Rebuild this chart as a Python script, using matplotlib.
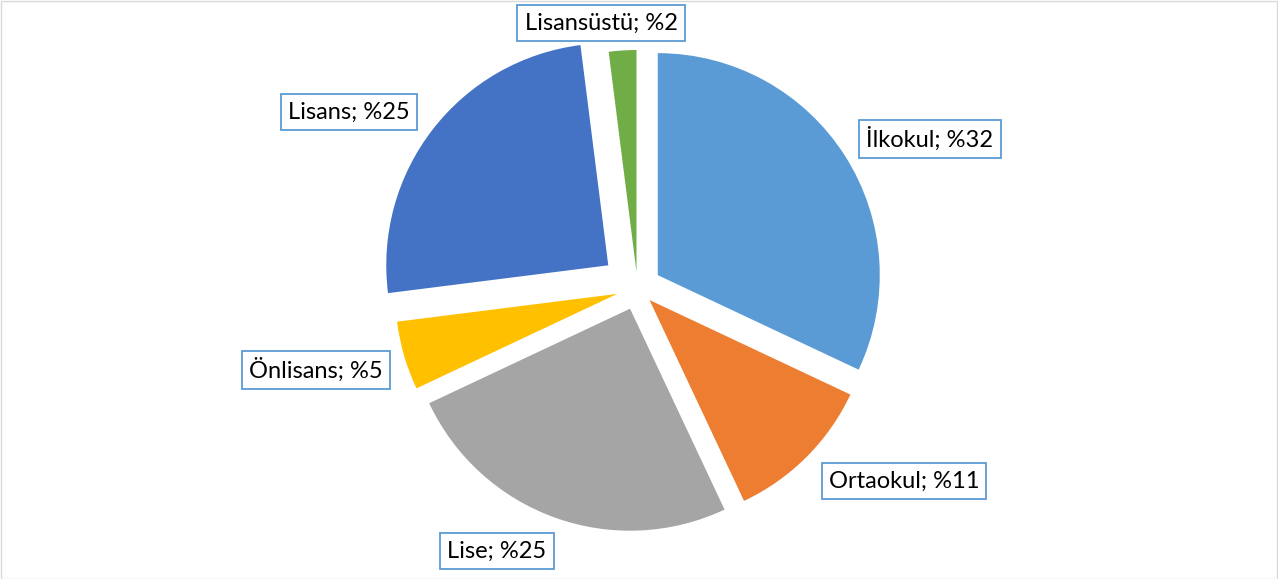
import matplotlib
matplotlib.use("Agg")
import matplotlib.pyplot as plt
from matplotlib.patches import Rectangle

# education level shares (%)
categories = ["İlkokul", "Ortaokul", "Lise", "Önlisans", "Lisans", "Lisansüstü"]
shares = [32, 11, 25, 5, 25, 2]
colors = ["#5B9BD5", "#ED7D31", "#A5A5A5", "#FFC000", "#4472C4", "#70AD47"]

# label box centres in pixel coords (x, y from top)
label_pos = [(930, 139), (904, 481), (497, 551), (316, 370), (349, 112), (601, 23)]
# how far each slice is pulled out (pixels)
explode = [24, 17, 22, 21, 37, 16]

W, H = 1278, 579
fig = plt.figure(figsize=(W / 100, H / 100), dpi=100)
ax = fig.add_axes([0, 0, 1, 1])

cx, cy = 637.5, H - 288
R = 222

ax.pie(shares, colors=colors, startangle=90, counterclock=False,
       center=(cx, cy), radius=R, explode=explode,
       wedgeprops=dict(linewidth=0), frame=False)
ax.set_xlim(0, W)
ax.set_ylim(0, H)
ax.set_aspect("equal")
ax.axis("off")

for name, val, (lx, ly) in zip(categories, shares, label_pos):
	ax.text(lx, H - ly, "%s; %%%d" % (name, val), ha="center", va="center",
	        fontsize=17, family=["Lato", "DejaVu Sans"], color="#000000",
	        bbox=dict(boxstyle="square,pad=0.3", fc="white", ec="#5B9BD5", lw=1.3))

# outer chart border
fig.patches.append(Rectangle((0.5 / W, 0.5 / H), 1 - 1.5 / W, 1 - 1.5 / H,
                             transform=fig.transFigure, fill=False,
                             ec="#D9D9D9", lw=1))

fig.savefig("out.png", dpi=100)
